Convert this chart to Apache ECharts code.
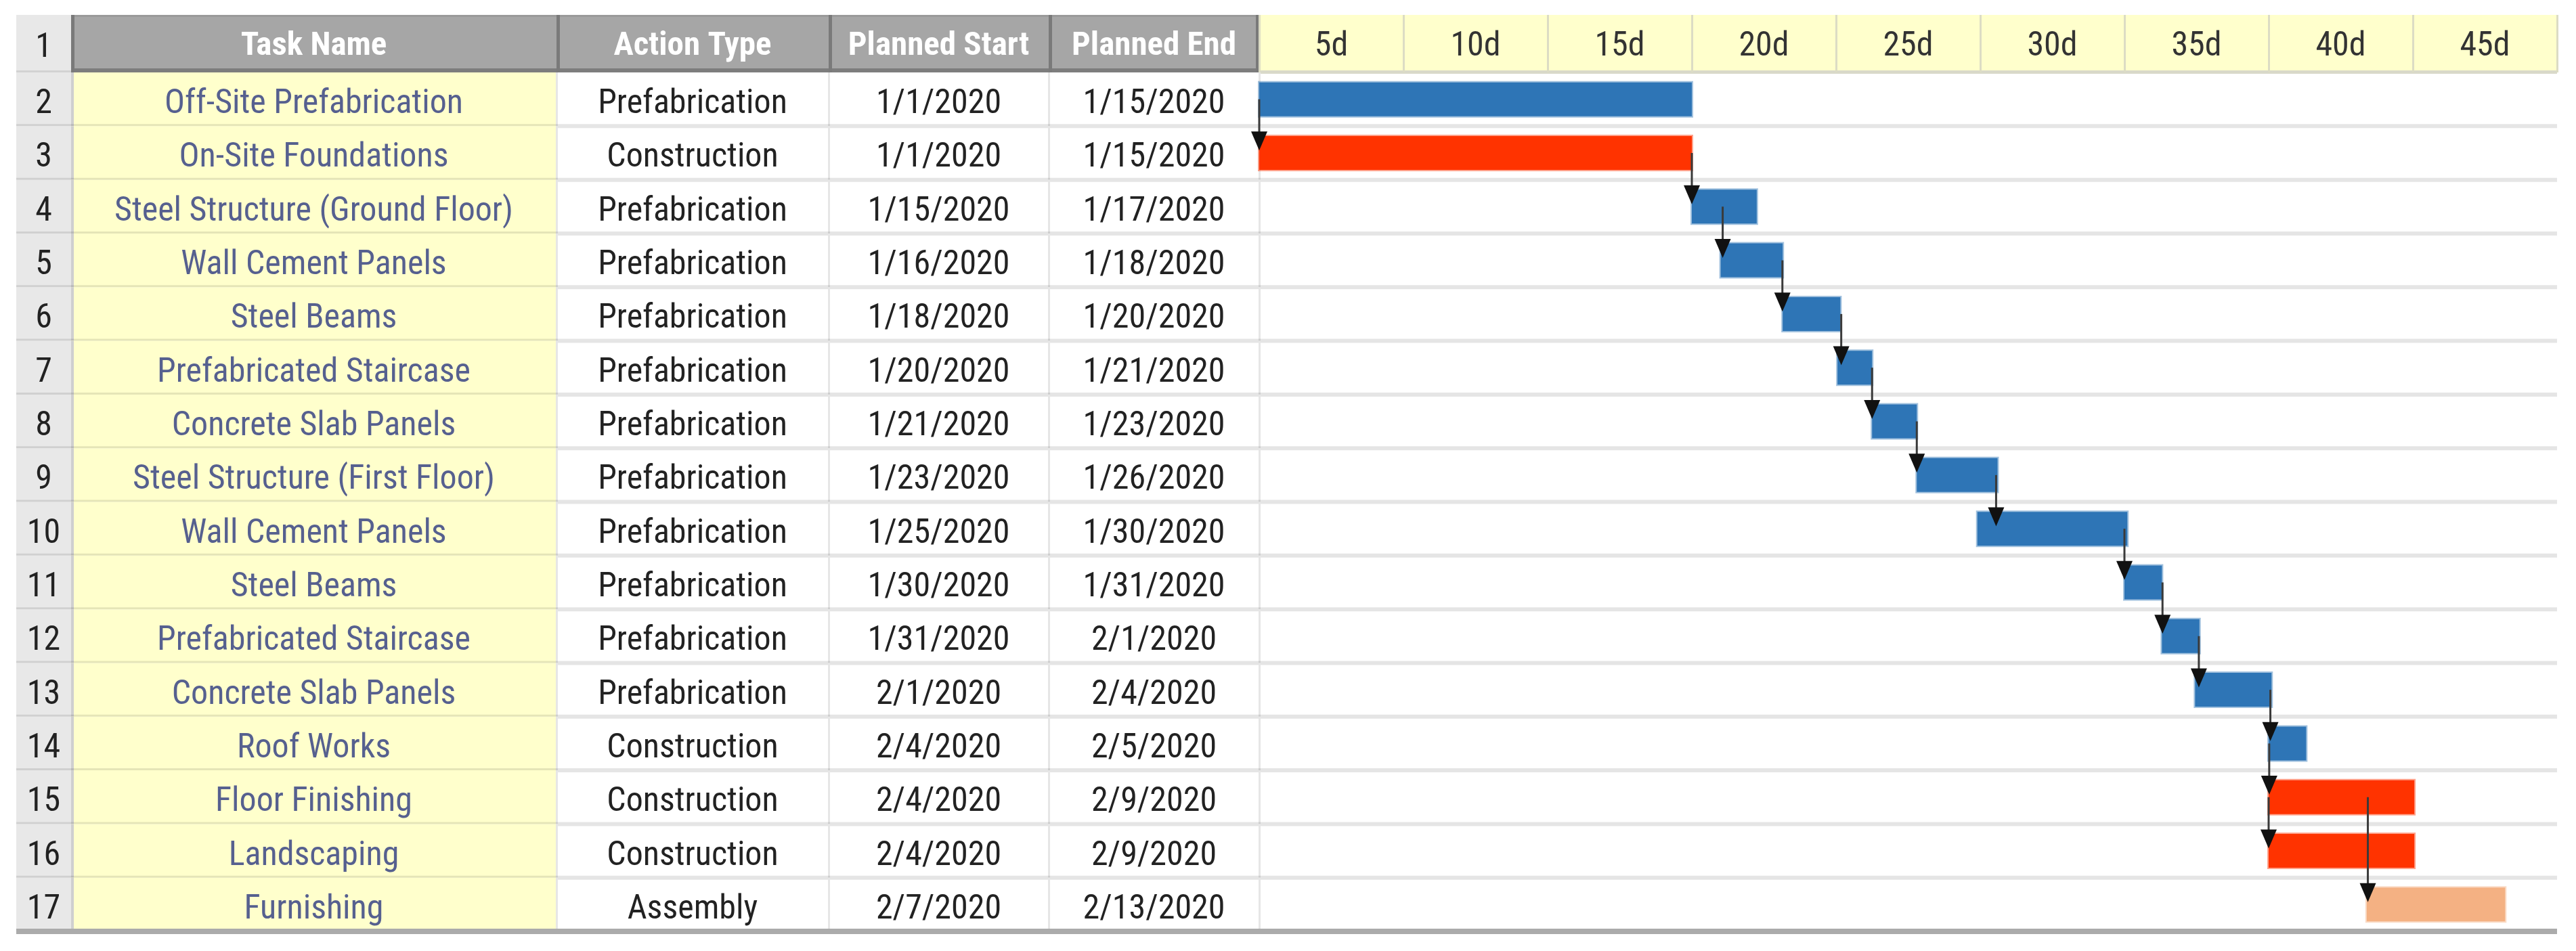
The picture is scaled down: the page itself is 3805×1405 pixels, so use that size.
<!DOCTYPE html>
<html>
<head>
<meta charset="utf-8">
<title>Construction schedule</title>
<script src="https://cdn.jsdelivr.net/npm/echarts@6/dist/echarts.min.js"></script>
<style>
  html, body { margin: 0; padding: 0; background: #fff; }
  #main { width: 3805px; height: 1405px; }
</style>
</head>
<body>
<div id="main"></div>
<script>
// ---- table data ----
var rowNumbers = ['2', '3', '4', '5', '6', '7', '8', '9', '10', '11', '12', '13', '14', '15', '16', '17'];
var taskNames = [
  'Off-Site Prefabrication', 'On-Site Foundations', 'Steel Structure (Ground Floor)', 'Wall Cement Panels',
  'Steel Beams', 'Prefabricated Staircase', 'Concrete Slab Panels', 'Steel Structure (First Floor)',
  'Wall Cement Panels', 'Steel Beams', 'Prefabricated Staircase', 'Concrete Slab Panels',
  'Roof Works', 'Floor Finishing', 'Landscaping', 'Furnishing'
];
var actionTypes = [
  'Prefabrication', 'Construction', 'Prefabrication', 'Prefabrication', 'Prefabrication', 'Prefabrication',
  'Prefabrication', 'Prefabrication', 'Prefabrication', 'Prefabrication', 'Prefabrication', 'Prefabrication',
  'Construction', 'Construction', 'Construction', 'Assembly'
];
var plannedStart = [
  '1/1/2020', '1/1/2020', '1/15/2020', '1/16/2020', '1/18/2020', '1/20/2020', '1/21/2020', '1/23/2020',
  '1/25/2020', '1/30/2020', '1/31/2020', '2/1/2020', '2/4/2020', '2/4/2020', '2/4/2020', '2/7/2020'
];
var plannedEnd = [
  '1/15/2020', '1/15/2020', '1/17/2020', '1/18/2020', '1/20/2020', '1/21/2020', '1/23/2020', '1/26/2020',
  '1/30/2020', '1/31/2020', '2/1/2020', '2/4/2020', '2/5/2020', '2/9/2020', '2/9/2020', '2/13/2020'
];
var headerLabels = ['Task Name', 'Action Type', 'Planned Start', 'Planned End'];

// ---- gantt data (days from project start) ----
var barStart = [0, 0, 15, 16, 18.15, 20.05, 21.25, 22.8, 24.9, 30, 31.3, 32.45, 35, 35, 35, 38.4];
var barEnd = [15, 15, 17.25, 18.15, 20.15, 21.25, 22.8, 25.6, 30.1, 31.3, 32.6, 35.1, 36.3, 40.05, 40.05, 43.2];
var barKind = ['prefab', 'site', 'prefab', 'prefab', 'prefab', 'prefab', 'prefab', 'prefab',
  'prefab', 'prefab', 'prefab', 'prefab', 'prefab', 'site', 'site', 'assembly'];
// dependency arrows: [from row, to row, day where the arrow drops]
var links = [
  [0, 1, 0], [1, 2, 15], [2, 3, 16.07], [3, 4, 18.14], [4, 5, 20.18], [5, 6, 21.25], [6, 7, 22.8],
  [7, 8, 25.55], [8, 9, 30], [9, 10, 31.32], [10, 11, 32.58], [11, 12, 35.06], [12, 13, 35.02],
  [13, 14, 35], [13, 15, 38.44]
];
var dayLabels = ['5d', '10d', '15d', '20d', '25d', '30d', '35d', '40d', '45d'];

// ---- layout / style ----
var FONT = '"Liberation Sans Narrow", "Arial Narrow", "Roboto Condensed", sans-serif';
var TOP = 22, HEAD_BOTTOM = 107, BOTTOM = 1376;
var COLS = [24, 105, 822, 1224, 1549, 1860];
var CHART_RIGHT = 3777;
var kindColor = { prefab: '#2e75b6', site: '#ff3300', assembly: '#f4b183' };
var kindEdge = { prefab: 'rgba(46,117,182,0.45)', site: 'rgba(255,51,0,0.45)', assembly: 'rgba(244,177,131,0.45)' };

function rect(x, y, w, h, fill, z) {
  return { type: 'rect', z: z || 1, shape: { x: x, y: y, width: w, height: h }, style: { fill: fill } };
}

// table cells for one row
function renderTableRow(params, api) {
  var i = api.value(1);
  var mid = api.coord([0, i])[1];
  var h = api.size([0, 1])[1];
  var top = mid - h / 2;
  var kids = [];
  kids.push(rect(COLS[0], top, COLS[1] - COLS[0], h, '#e8e8e8'));
  kids.push(rect(COLS[1], top, COLS[2] - COLS[1], h, '#ffffcc'));
  kids.push(rect(COLS[1], top, 4, h, '#cfcfcf'));
  [COLS[2], COLS[3], COLS[4], COLS[5]].forEach(function (x) {
    kids.push(rect(x - 1, top, 3, h, '#e6e6e6'));
  });
  var texts = [rowNumbers[i], taskNames[i], actionTypes[i], plannedStart[i], plannedEnd[i]];
  for (var c = 0; c < texts.length; c++) {
    kids.push({
      type: 'text',
      style: {
        text: texts[c],
        x: (COLS[c] + COLS[c + 1]) / 2,
        y: mid + 8,
        align: 'center',
        verticalAlign: 'middle',
        fontFamily: FONT,
        fontSize: 50,
        fill: c === 1 ? '#56608f' : '#222'
      }
    });
  }
  if (i < taskNames.length - 1) {
    kids.push(rect(COLS[0], top + h - 3, CHART_RIGHT - COLS[0], 6, 'rgba(0,0,0,0.1)'));
  }
  return { type: 'group', children: kids };
}

function renderBar(params, api) {
  var i = api.value(2);
  var p0 = api.coord([api.value(0), i]);
  var p1 = api.coord([api.value(1), i]);
  var h = api.size([0, 1])[1] * 0.63;
  var kind = barKind[i];
  return {
    type: 'rect',
    shape: { x: p0[0], y: p0[1] - h / 2, width: p1[0] - p0[0], height: h },
    style: { fill: kindColor[kind], stroke: kindEdge[kind], lineWidth: 4 }
  };
}

function renderLink(params, api) {
  var day = api.value(0);
  var from = api.coord([day, api.value(1)]);
  var toMid = api.coord([day, api.value(2)])[1];
  var h = api.size([0, 1])[1];
  var rowTop = toMid - h / 2;
  var x = from[0];
  var baseY = rowTop + 8, tipY = rowTop + 36;
  return {
    type: 'group',
    children: [
      { type: 'line', shape: { x1: x, y1: from[1], x2: x, y2: baseY + 4 }, style: { stroke: '#3a3a3a', lineWidth: 3 } },
      { type: 'polygon', shape: { points: [[x - 12, baseY], [x + 12, baseY], [x, tipY]] }, style: { fill: '#111' } }
    ]
  };
}

// header row
var header = [];
header.push(rect(COLS[0], TOP, COLS[1] - COLS[0], HEAD_BOTTOM - TOP, '#e8e8e8'));
header.push(rect(COLS[0], HEAD_BOTTOM - 3, COLS[1] - COLS[0], 6, '#d2d2d2'));
header.push({ type: 'text', z: 2, style: { text: '1', x: (COLS[0] + COLS[1]) / 2, y: 71, align: 'center', verticalAlign: 'middle', fontFamily: FONT, fontSize: 50, fill: '#222' } });
header.push(rect(COLS[1], TOP, COLS[5] - COLS[1], HEAD_BOTTOM - TOP, '#a6a6a6'));
header.push(rect(COLS[1], TOP, COLS[5] - COLS[1], 3, '#9a9a9a'));
header.push(rect(COLS[1], HEAD_BOTTOM - 6, COLS[5] - COLS[1], 6, '#7d7d7d'));
[COLS[1], COLS[2], COLS[3], COLS[4]].forEach(function (x) {
  header.push(rect(x, TOP, 5, HEAD_BOTTOM - TOP, '#7a7a7a', 2));
});
header.push(rect(COLS[5] - 5, TOP, 5, HEAD_BOTTOM - TOP, '#7a7a7a', 2));
headerLabels.forEach(function (t, c) {
  header.push({ type: 'text', z: 3, style: { text: t, x: (COLS[c + 1] + COLS[c + 2]) / 2, y: 69, align: 'center', verticalAlign: 'middle', fontFamily: FONT, fontSize: 49, fontWeight: 'bold', fill: '#fff' } });
});
header.push(rect(COLS[5], TOP, CHART_RIGHT - COLS[5], HEAD_BOTTOM - TOP - 2, '#ffffcc'));
header.push(rect(COLS[5], HEAD_BOTTOM - 3, CHART_RIGHT - COLS[5], 5, '#d9d9c9', 2));
header.push(rect(COLS[0], BOTTOM - 4, CHART_RIGHT - COLS[0], 8, '#ababab', 5));

var myChart = echarts.init(document.getElementById('main'), null, { renderer: 'canvas' });
myChart.setOption({
  backgroundColor: '#fff',
  animation: false,
  graphic: { elements: header },
  grid: { left: COLS[5], top: HEAD_BOTTOM, width: CHART_RIGHT - COLS[5], height: BOTTOM - HEAD_BOTTOM },
  xAxis: [
    { type: 'value', min: 0, max: 45, interval: 5, show: false },
    {
      type: 'category', position: 'top', data: dayLabels, z: 10,
      axisLine: { show: false },
      axisTick: { show: true, interval: 0, length: HEAD_BOTTOM - TOP, lineStyle: { color: '#dcdcc4', width: 3 } },
      axisLabel: { margin: 38, verticalAlign: 'middle', color: '#333', fontSize: 50, fontFamily: FONT },
      splitLine: { show: false }
    }
  ],
  yAxis: {
    type: 'category', inverse: true, data: rowNumbers,
    show: false
  },
  series: [
    {
      name: 'table', type: 'custom', z: 2, clip: false,
      data: taskNames.map(function (t, i) { return [0, i]; }),
      encode: { x: 0, y: 1 },
      renderItem: renderTableRow
    },
    {
      name: 'bars', type: 'custom', z: 3,
      data: barStart.map(function (s, i) { return [s, barEnd[i], i]; }),
      encode: { x: [0, 1], y: 2 },
      renderItem: renderBar
    },
    {
      name: 'links', type: 'custom', z: 4, clip: false,
      data: links.map(function (l) { return [l[2], l[0], l[1]]; }),
      encode: { x: 0, y: [1, 2] },
      renderItem: renderLink
    }
  ]
});
</script>
</body>
</html>
